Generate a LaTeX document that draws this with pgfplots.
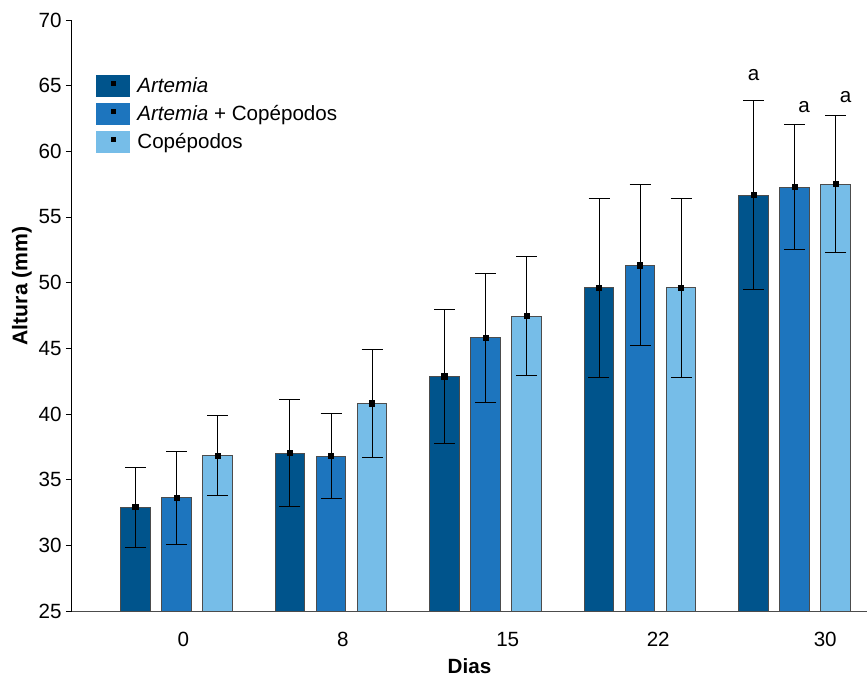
\documentclass[border=0pt]{standalone}
\usepackage{fontspec}
\setmainfont{Liberation Sans}
\usepackage{pgfplots}
\usepackage{pgfplotstable}
\pgfplotsset{compat=1.18}
\definecolor{c1}{RGB}{0,84,140}
\definecolor{c2}{RGB}{29,117,190}
\definecolor{c3}{RGB}{118,189,232}

% x = group index (0..4) + bar offset; y = mean; e = sd
\pgfplotstableread{
x y e
-0.2654 32.90 3.05
0.7346 37.03 4.05
1.7346 42.87 5.10
2.7346 49.60 6.81
3.7346 56.67 7.17
}\tA
\pgfplotstableread{
x y e
0.0 33.62 3.55
1.0 36.78 3.24
2.0 45.79 4.94
3.0 51.32 6.13
4.0 57.28 4.78
}\tB
\pgfplotstableread{
x y e
0.2654 36.82 3.05
1.2654 40.80 4.14
2.2654 47.44 4.54
3.2654 49.60 6.81
4.2654 57.51 5.23
}\tC

\pgfplotsset{
  mybar/.style={ybar, bar width=0.191, bar shift=0pt, fill=#1, draw=black!70, line width=0.5pt,
    legend image code/.code={\fill[#1] (0pt,-5.25pt) rectangle (16.5pt,5.25pt); \fill[black] (7.05pt,0.3pt) rectangle (9.45pt,2.7pt);},
    error bars/.cd, y dir=both, y explicit,
    error bar style={black, line width=0.5pt},
    error mark options={rotate=90, mark size=5.25pt, black, line width=0.5pt}},
}

\begin{document}
\begin{tikzpicture}
\begin{axis}[
  name=ax,
  scale only axis,
  width=397.5pt, height=295.5pt,
  xmin=-0.6764, xmax=4.4693,
  ymin=25, ymax=70,
  axis x line=bottom, axis y line=left,
  axis line style={-},
  x axis line style={black!70, line width=0.5pt},
  y axis line style={black, line width=0.5pt},
  ytick={25,30,...,70},
  tick align=outside,
  major tick length=3pt,
  ytick style={black, line width=0.5pt},
  xtick={0.044,1.076,2.144,3.118,4.199},
  xticklabels={0,8,15,22,30},
  xtick style={draw=none},
  extra x ticks={0.191,1.054,1.917,2.779,3.642},
  extra x tick labels={},
  extra x tick style={tick align=inside, major tick length=2.5pt, tick style={black!70, line width=0.5pt}},
  /pgf/number format/assume math mode=true,
  tick label style={font=\fontsize{10.3}{12}\selectfont},
  yticklabel style={xshift=1.3pt},
  xticklabel style={yshift=-4pt},
  xlabel={\textbf{Dias}},
  ylabel={\textbf{Altura (mm)}},
  label style={font=\fontsize{10.3}{12}\selectfont},
  xlabel style={at={(axis description cs:0.5,0)}, anchor=center, yshift=-27.8pt},
  ylabel style={at={(axis description cs:-0.0629,0.55)}, anchor=center, font=\fontsize{10.6}{12}\selectfont},
  legend style={draw=none, fill=none, at={(0,1)}, anchor=north west,
    xshift=12pt, yshift=-27.5pt, inner sep=0pt, row sep=3pt,
    nodes={inner ysep=0pt, inner xsep=3.5pt, font=\fontsize{10.3}{12}\selectfont},
  },
  legend cell align=left,
  clip=true,
]
\addplot[mybar=c1] table[x=x, y=y, y error=e] {\tA};
\addplot[mybar=c2] table[x=x, y=y, y error=e] {\tB};
\addplot[mybar=c3] table[x=x, y=y, y error=e] {\tC};
\addplot[only marks, mark=square*, mark size=1.3pt, black, forget plot] table[x=x, y=y] {\tA};
\addplot[only marks, mark=square*, mark size=1.3pt, black, forget plot] table[x=x, y=y] {\tB};
\addplot[only marks, mark=square*, mark size=1.3pt, black, forget plot] table[x=x, y=y] {\tC};
\legend{\textit{Artemia}, \textit{Artemia} + Copépodos, Copépodos}
\node[font=\fontsize{10.3}{12}\selectfont] at (axis cs:3.7346,65.8) {a};
\node[font=\fontsize{10.3}{12}\selectfont] at (axis cs:4.0615,63.4) {a};
\node[font=\fontsize{10.3}{12}\selectfont] at (axis cs:4.3300,64.16) {a};
\end{axis}
\pgfresetboundingbox
\path[use as bounding box] ([xshift=-36pt,yshift=-32.5pt]ax.south west) rectangle ([yshift=10pt]ax.north east);
\end{tikzpicture}
\end{document}
